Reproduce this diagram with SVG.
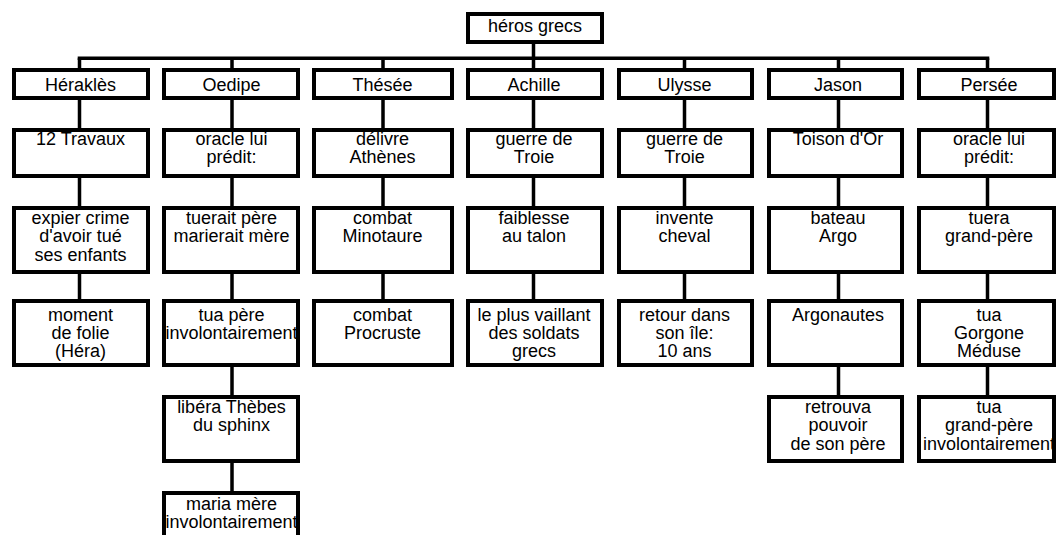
<svg xmlns="http://www.w3.org/2000/svg" width="1059" height="535" viewBox="0 0 1059 535">
<style>
.box{fill:#fff;stroke:#000;stroke-width:4}
.t{font-family:"Liberation Sans",Arial,Helvetica,sans-serif;font-size:18px;text-anchor:middle;fill:#000}
.c{stroke:#000;stroke-width:3.5;fill:none}
</style>
<rect width="1059" height="535" fill="#fff"/>
<g id="connectors">
<path class="c" d="M533.5,44 V58.3 M77.7,58.3 H989.3"/>
<path class="c" d="M79.5,58.3 V68 M232,58.3 V68 M383,58.3 V68 M533.5,58.3 V68 M684.5,58.3 V68 M838.5,58.3 V68 M987.5,58.3 V68"/>
<path class="c" d="M79.5,100 V128 M79.5,178 V206 M79.5,274 V299"/>
<path class="c" d="M232,100 V128 M232,178 V206 M232,274 V299 M232,367 V395 M232,463 V491"/>
<path class="c" d="M383,100 V128 M383,178 V206 M383,274 V299"/>
<path class="c" d="M533.5,100 V128 M533.5,178 V206 M533.5,274 V299"/>
<path class="c" d="M684.5,100 V128 M684.5,178 V206 M684.5,274 V299"/>
<path class="c" d="M838.5,100 V128 M838.5,178 V206 M838.5,274 V299 M838.5,367 V395"/>
<path class="c" d="M987.5,100 V128 M987.5,178 V206 M987.5,274 V299 M987.5,367 V395"/>
</g>
<g id="root"><rect class="box" x="468" y="14" width="134" height="28"/><text class="t" x="535" y="31.5">héros grecs</text></g>

<g id="herakles"><rect class="box" x="14" y="70" width="134" height="28"/><text class="t" x="80.5" y="90.5">Héraklès</text></g>
<g id="herakles-2"><rect class="box" x="14" y="130" width="134" height="46"/><text class="t" x="80.5" y="145">12 Travaux</text></g>
<g id="herakles-3"><rect class="box" x="14" y="208" width="134" height="64"/><text class="t" x="80.5" y="224">expier crime<tspan x="80.5" dy="18.3">d'avoir tué</tspan><tspan x="80.5" dy="18.3">ses enfants</tspan></text></g>
<g id="herakles-4"><rect class="box" x="14" y="301" width="134" height="64"/><text class="t" x="80.5" y="320.5">moment<tspan x="80.5" dy="18.3">de folie</tspan><tspan x="80.5" dy="18.3">(Héra)</tspan></text></g>

<g id="oedipe"><rect class="box" x="164" y="70" width="134" height="28"/><text class="t" x="231.5" y="90.5">Oedipe</text></g>
<g id="oedipe-2"><rect class="box" x="164" y="130" width="134" height="46"/><text class="t" x="231.5" y="145">oracle lui<tspan x="231.5" dy="18.3">prédit:</tspan></text></g>
<g id="oedipe-3"><rect class="box" x="164" y="208" width="134" height="64"/><text class="t" x="231.5" y="224">tuerait père<tspan x="231.5" dy="18.3">marierait mère</tspan></text></g>
<g id="oedipe-4"><rect class="box" x="164" y="301" width="134" height="64"/><text class="t" x="231.5" y="320.5">tua père<tspan x="231.5" dy="18.3">involontairement</tspan></text></g>
<g id="oedipe-5"><rect class="box" x="164" y="397" width="134" height="64"/><text class="t" x="231.5" y="413">libéra Thèbes<tspan x="231.5" dy="18.3">du sphinx</tspan></text></g>
<g id="oedipe-6"><rect class="box" x="164" y="493" width="134" height="64"/><text class="t" x="231.5" y="509.5">maria mère<tspan x="231.5" dy="18.3">involontairement</tspan></text></g>

<g id="thesee"><rect class="box" x="314" y="70" width="138" height="28"/><text class="t" x="382.5" y="90.5">Thésée</text></g>
<g id="thesee-2"><rect class="box" x="314" y="130" width="138" height="46"/><text class="t" x="382.5" y="145">délivre<tspan x="382.5" dy="18.3">Athènes</tspan></text></g>
<g id="thesee-3"><rect class="box" x="314" y="208" width="138" height="64"/><text class="t" x="382.5" y="224">combat<tspan x="382.5" dy="18.3">Minotaure</tspan></text></g>
<g id="thesee-4"><rect class="box" x="314" y="301" width="138" height="64"/><text class="t" x="382.5" y="320.5">combat<tspan x="382.5" dy="18.3">Procruste</tspan></text></g>

<g id="achille"><rect class="box" x="468" y="70" width="134" height="28"/><text class="t" x="534" y="90.5">Achille</text></g>
<g id="achille-2"><rect class="box" x="468" y="130" width="134" height="46"/><text class="t" x="534" y="145">guerre de<tspan x="534" dy="18.3">Troie</tspan></text></g>
<g id="achille-3"><rect class="box" x="468" y="208" width="134" height="64"/><text class="t" x="534" y="224">faiblesse<tspan x="534" dy="18.3">au talon</tspan></text></g>
<g id="achille-4"><rect class="box" x="468" y="301" width="134" height="64"/><text class="t" x="534" y="320.5">le plus vaillant<tspan x="534" dy="18.3">des soldats</tspan><tspan x="534" dy="18.3">grecs</tspan></text></g>

<g id="ulysse"><rect class="box" x="619" y="70" width="133" height="28"/><text class="t" x="684.5" y="90.5">Ulysse</text></g>
<g id="ulysse-2"><rect class="box" x="619" y="130" width="133" height="46"/><text class="t" x="684.5" y="145">guerre de<tspan x="684.5" dy="18.3">Troie</tspan></text></g>
<g id="ulysse-3"><rect class="box" x="619" y="208" width="133" height="64"/><text class="t" x="684.5" y="224">invente<tspan x="684.5" dy="18.3">cheval</tspan></text></g>
<g id="ulysse-4"><rect class="box" x="619" y="301" width="133" height="64"/><text class="t" x="684.5" y="320.5">retour dans<tspan x="684.5" dy="18.3">son île:</tspan><tspan x="684.5" dy="18.3">10 ans</tspan></text></g>

<g id="jason"><rect class="box" x="769" y="70" width="133" height="28"/><text class="t" x="838" y="90.5">Jason</text></g>
<g id="jason-2"><rect class="box" x="769" y="130" width="133" height="46"/><text class="t" x="838" y="145">Toison d'Or</text></g>
<g id="jason-3"><rect class="box" x="769" y="208" width="133" height="64"/><text class="t" x="838" y="224">bateau<tspan x="838" dy="18.3">Argo</tspan></text></g>
<g id="jason-4"><rect class="box" x="769" y="301" width="133" height="64"/><text class="t" x="838" y="320.5">Argonautes</text></g>
<g id="jason-5"><rect class="box" x="769" y="397" width="133" height="64"/><text class="t" x="838" y="413">retrouva<tspan x="838" dy="18.3">pouvoir</tspan><tspan x="838" dy="18.3">de son père</tspan></text></g>

<g id="persee"><rect class="box" x="919" y="70" width="135" height="28"/><text class="t" x="989" y="90.5">Persée</text></g>
<g id="persee-2"><rect class="box" x="919" y="130" width="135" height="46"/><text class="t" x="989" y="145">oracle lui<tspan x="989" dy="18.3">prédit:</tspan></text></g>
<g id="persee-3"><rect class="box" x="919" y="208" width="135" height="64"/><text class="t" x="989" y="224">tuera<tspan x="989" dy="18.3">grand-père</tspan></text></g>
<g id="persee-4"><rect class="box" x="919" y="301" width="135" height="64"/><text class="t" x="989" y="320.5">tua<tspan x="989" dy="18.3">Gorgone</tspan><tspan x="989" dy="18.3">Méduse</tspan></text></g>
<g id="persee-5"><rect class="box" x="919" y="397" width="135" height="64"/><text class="t" x="989" y="413">tua<tspan x="989" dy="18.3">grand-père</tspan><tspan x="989" dy="18.3">involontairement</tspan></text></g>
</svg>
